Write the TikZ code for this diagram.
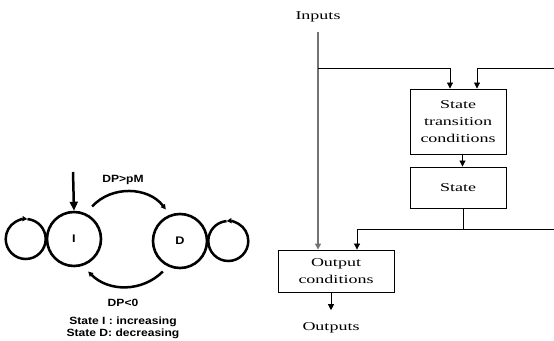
\documentclass[tikz,border=0pt]{standalone}
\usepackage{fontspec}
\setmainfont{Liberation Serif}
\newfontfamily\blockfont[FakeStretch=1.5]{Liberation Serif}
\newfontfamily\statefont[FakeStretch=1.15]{Liberation Sans}
\usetikzlibrary{arrows.meta}

\begin{document}
\begin{tikzpicture}[x=1pt,y=1pt]

                    \tikzset{block/.style = {shape=rectangle,draw,line width=0.9pt,align=center,inner sep=0pt,font=\blockfont\fontsize{12}{17}\selectfont}}
                    \tikzset{tag/.style = {font=\blockfont\fontsize{12}{17}\selectfont}}
                    \tikzset{wire/.style = {line width=0.9pt}}
                    \tikzset{flow/.style = {->,> = {Triangle[length=6pt,width=6pt]},line width=0.9pt}}
                    \tikzset{feed/.style = {draw=black!55,line width=1.3pt}}
                    \tikzset{state/.style = {shape=circle,draw,line width=2.6pt,minimum size=54pt,inner sep=0pt,font=\statefont\bfseries\fontsize{11}{12}\selectfont}}
                    \tikzset{trans/.style = {->,> = {Triangle[length=5pt,width=5pt]},line width=2.5pt}}
                    \tikzset{ring/.style = {line width=2.5pt}}
                    \tikzset{caption/.style = {font=\statefont\bfseries\fontsize{10.5}{12}\selectfont}}

                    \useasboundingbox (0,0) rectangle (554,340);

                    % state diagram
                    \node[state] (I) at (74,101) {I};
                    \node[state] (D) at (180,99) {D};
                    \coordinate (start) at (73,168);

                    \draw[trans,> = {Triangle[length=9pt,width=8pt]}] (start) -- (I.north);
                    \draw[trans] ([shift={(4,8)}]I.60) to[bend left=50] ([yshift=7]D.120);
                    \draw[trans] ([shift={(-3,-6)}]D.-120) to[bend left=45] ([yshift=-8]I.-60);
                    \draw[trans] (I.west) arc[start angle=0,end angle=-275,radius=20];
                    \draw[ring] (I.west) arc[start angle=0,end angle=85,radius=20];
                    \draw[trans] (D.east) arc[start angle=180,end angle=455,radius=20];
                    \draw[ring] (D.east) arc[start angle=180,end angle=95,radius=20];

                    \node[caption] (up) at (123,160) {DP>pM};
                    \node[caption] (down) at (123,37) {DP<0};
                    \node[caption] (legI) at (123,18) {State I : increasing};
                    \node[caption] (legD) at (123,6) {State D: decreasing};

                    % block diagram
                    \node[tag] (in) at (318,323) {Inputs};
                    \node[block,minimum width=96pt,minimum height=65pt] (stc) at (458,218.5) {State\\transition\\conditions};
                    \node[block,minimum width=96pt,minimum height=41pt] (st) at (458,152.5) {State};
                    \node[block,minimum width=116pt,minimum height=42pt] (oc) at (336,69) {Output\\conditions};
                    \node[tag] (out) at (331,12) {Outputs};
                    \coordinate (split) at (318,272);
                    \coordinate (back) at (554,272);
                    \coordinate (tap) at (463,111);
                    \coordinate (back2) at (554,111);

                    \draw[flow,feed,shorten <=6pt] (in.south) -- (in.south |- oc.north);
                    \draw[flow] (split) -| ([xshift=-8]stc.north);
                    \draw[flow] (back) -| ([xshift=19]stc.north);
                    \draw[flow] ([xshift=4.5]stc.south) -- ([xshift=4.5]st.north);
                    \draw[wire] (st.south -| tap) -- (tap);
                    \draw[wire] (tap) -- (back2);
                    \draw[flow] (tap) -| ([xshift=21]oc.north);
                    \draw[flow,shorten >=9pt] (oc.south -| out) -- (out.north);

                \end{tikzpicture}
\end{document}
